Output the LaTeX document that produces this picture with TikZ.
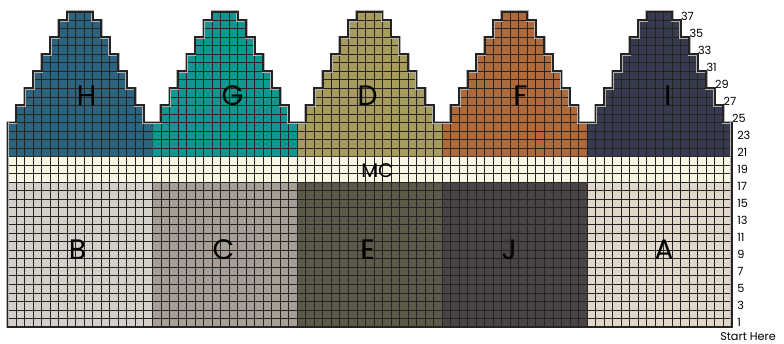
\documentclass[tikz,border=0pt]{standalone}
\usepackage{fontspec}
\setmainfont{Poppins}
\usetikzlibrary{positioning}
\definecolor{peakH}{RGB}{44,100,128}
\definecolor{peakG}{RGB}{14,152,145}
\definecolor{peakD}{RGB}{166,156,94}
\definecolor{peakF}{RGB}{176,105,58}
\definecolor{peakI}{RGB}{55,59,80}
\definecolor{mccream}{RGB}{248,245,226}
\definecolor{blockB}{RGB}{213,208,202}
\definecolor{blockC}{RGB}{167,159,149}
\definecolor{blockE}{RGB}{91,90,72}
\definecolor{blockJ}{RGB}{74,67,67}
\definecolor{blockA}{RGB}{226,216,201}
\definecolor{gridline}{RGB}{40,35,35}

\begin{document}
\begin{tikzpicture}[
  x=0.213cm, y=0.213cm,
  cell/.style={draw=gridline, line width=0.55pt, step={(1,1)}},
  edge/.style={draw=gridline, line width=1.3pt, line join=miter,
               preaction={draw=black!30, line width=2.1pt}},
  letter/.style={font=\fontsize{20}{20}\selectfont, inner sep=0pt},
  rowno/.style={font=\fontsize{8}{8}\selectfont, anchor=west, inner sep=0pt}
]
\useasboundingbox (-0.88,-1.91) rectangle (91.12,38.37);

% lower blocks and MC band
\foreach \s/\c in {0/blockB,17/blockC,34/blockE,51/blockJ,68/blockA}
  \fill[\c] (\s,0) rectangle ++(17,17);
\fill[mccream] (0,17) rectangle (85,20);
\draw[cell] (0,0) grid (85,20);

% peaks
\foreach \s/\c in {0/peakH,17/peakG,34/peakD,51/peakF,68/peakI}{
  \def\stairs{foreach \k in {1,...,6}{-| ++(1,2)} -| ++(1,1) -- ++(3,0)
    |- ++(1,-1) foreach \k in {1,...,6}{|- ++(1,-2)}}
  \begin{scope}
    \fill[\c] (\s,20) -- (\s,24) \stairs -- ++(0,-4) -- cycle;
    \clip (\s,20) -- (\s,24) \stairs -- ++(0,-4) -- cycle;
    \draw[cell] (\s,20) grid ++(17,17);
  \end{scope}
  \draw[edge] (\s,24) \stairs;
}
\draw[edge] (0,24) |- (85,0) -- (85,24);

% labels
\node[letter] (lblH) at (9.27,27.1) {H};
\node[letter] (lblG) at (26.4,27.1) {G};
\node[letter] (lblD) at (42.25,27.1) {D};
\node[letter] (lblF) at (60.2,27.1) {F};
\node[letter] (lblI) at (77.5,27.1) {I};
\node[letter, font=\fontsize{14}{14}\selectfont] (lblMC) at (43.4,18.3) {MC};
\node[letter] (lblB) at (8.2,9.1) {B};
\node[letter] (lblC) at (25.35,9.1) {C};
\node[letter] (lblE) at (42.25,9.1) {E};
\node[letter] (lblJ) at (58.9,9.1) {J};
\node[letter] (lblA) at (77.05,9.1) {A};

% row numbers
\foreach \r in {1,3,...,23}
  \node[rowno] (row\r) at (85.6,{\r-0.5}) {\r};
\foreach \r in {25,27,...,37}
  \node[rowno] (row\r) at ({86-(\r-23)/2},{\r-0.5}) {\r};
\node[rowno, anchor=center] (start) at (86.9,-1.1) {Start Here};
\end{tikzpicture}
\end{document}
